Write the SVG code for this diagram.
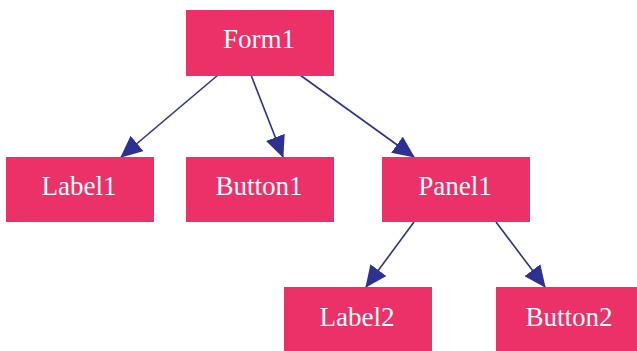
<svg xmlns="http://www.w3.org/2000/svg" width="637" height="351" viewBox="0 0 637 351">
<style>
.n rect{fill:#EC3068}
.n text{fill:#fff;font-family:"Liberation Serif","Times New Roman",serif;font-size:27px;text-anchor:middle}
.e line{stroke:#2E3192;stroke-width:1.6;marker-end:url(#ah)}
</style>
<defs>
<marker id="ah" viewBox="0 0 22 20" refX="21" refY="10" markerWidth="22" markerHeight="20" markerUnits="userSpaceOnUse" orient="auto">
<path d="M0,0 L22,10 L0,20 z" fill="#2E3192"/>
</marker>
</defs>
<rect width="637" height="351" fill="#fff"/>
<g class="e" id="edges">
<line x1="218" y1="75" x2="121" y2="157"/>
<line x1="251" y1="75" x2="283" y2="157"/>
<line x1="300" y1="75" x2="414" y2="157"/>
<line x1="414" y1="222" x2="366" y2="287"/>
<line x1="496" y1="222" x2="545" y2="287"/>
</g>
<g class="n" id="Form1"><rect x="186" y="10" width="148" height="66"/><text x="259" y="48">Form1</text></g>
<g class="n" id="Label1"><rect x="6" y="157" width="148" height="65"/><text x="79" y="195">Label1</text></g>
<g class="n" id="Button1"><rect x="186" y="157" width="148" height="65"/><text x="259" y="195">Button1</text></g>
<g class="n" id="Panel1"><rect x="382" y="157" width="148" height="65"/><text x="455" y="195">Panel1</text></g>
<g class="n" id="Label2"><rect x="284" y="287" width="148" height="65"/><text x="357" y="326">Label2</text></g>
<g class="n" id="Button2"><rect x="496" y="287" width="148" height="65"/><text x="569" y="326">Button2</text></g>
</svg>
